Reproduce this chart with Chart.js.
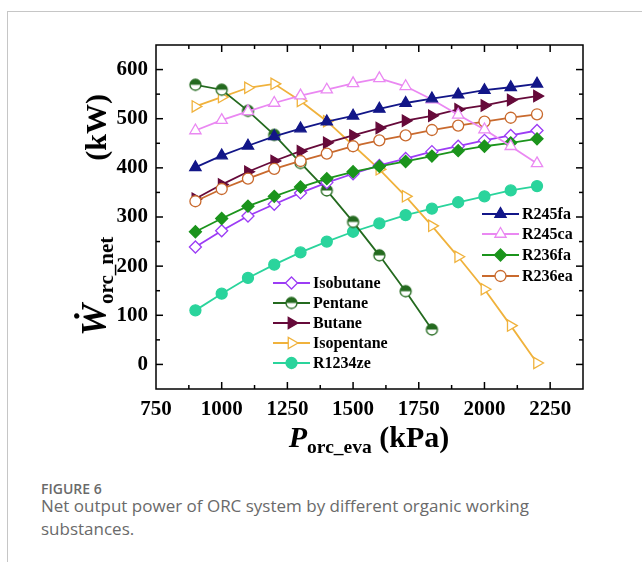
<!DOCTYPE html>
<html>
<head>
<meta charset="utf-8">
<script src="https://cdn.jsdelivr.net/npm/chart.js@4.4.0/dist/chart.umd.min.js"></script>
<style>
  body { margin: 0; background: #fff; width: 642px; height: 562px; overflow: hidden; position: relative; }
  #frame { position: absolute; left: 7px; top: 11px; width: 640px; height: 560px; border-left: 1.5px solid #c6c6c6; border-top: 1.5px solid #c6c6c6; }
  #wrap { position: absolute; left: 0; top: 0; width: 642px; height: 470px; }
  .axt { position: absolute; font-family: 'Liberation Serif', serif; font-weight: bold; font-size: 30px; white-space: nowrap; color: #000; line-height: 1; }
  .axt .sub { font-size: 19.5px; position: relative; top: 6px; }
  #ytitle { left: 94px; top: 215px; transform: translate(-50%, -50%) rotate(-90deg); }
  #ytitle .w { font-size: 36px; }
  #ytitle .sub { font-size: 21px; top: 7px; }
  #ytitle .kw { margin-left: 76px; }
  #xtitle { left: 369px; top: 437px; transform: translate(-50%, -50%); }
  #fig { position: absolute; left: 41px; top: 479px; font-family: 'Open Sans', sans-serif; font-size: 14px; line-height: 20px; color: #6a6a6a; font-weight: 600; }
  #cap { position: absolute; left: 41px; top: 494px; font-family: 'Open Sans', sans-serif; font-size: 17px; line-height: 23px; color: #6a6a6a; }
</style>
</head>
<body>
<div id="frame"></div>
<div id="wrap"><canvas id="chart" width="642" height="470"></canvas></div>
<div class="axt" id="ytitle"><i class="w">W&#775;</i><span class="sub">orc_net</span><span class="kw">(kW)</span></div>
<div class="axt" id="xtitle"><i>P</i><span class="sub">orc_eva</span> (kPa)</div>
<div id="fig">FIGURE 6</div>
<div id="cap">Net output power of ORC system by different organic working<br>substances.</div>
<script>
// 蒸发压力 (kPa)
const pressure = [900, 1000, 1100, 1200, 1300, 1400, 1500, 1600, 1700, 1800, 1900, 2000, 2100, 2200];
const xTicks = [750, 1000, 1250, 1500, 1750, 2000, 2250];
const xMinor = [875, 1125, 1375, 1625, 1875, 2125];
const yTicks = [0, 100, 200, 300, 400, 500, 600];
const yMinor = [50, 150, 250, 350, 450, 550];

// 各工质净输出功率 (kW)
const r245fa    = [401, 425, 445, 464, 480, 494, 506, 520, 532, 541, 549, 558, 564, 571];
const r245ca    = [476, 497, 515, 532, 547, 559, 572, 582, 566, 539, 508, 478, 444, 409];
const r236fa    = [270, 297, 322, 342, 361, 378, 392, 403, 413, 424, 435, 444, 451, 459];
const r236ea    = [332, 357, 378, 398, 414, 429, 444, 456, 466, 477, 486, 494, 502, 509];
const isobutane = [239, 272, 302, 326, 349, 370, 388, 405, 419, 433, 444, 456, 466, 476];
const pentane   = [569, 559, 516, 467, 410, 354, 290, 222, 149, 71];
const butane    = [337, 366, 392, 414, 434, 451, 466, 481, 496, 506, 519, 527, 538, 546];
const isopentane = [525, 544, 563, 571, 536, 495, 446, 397, 342, 282, 219, 153, 79, 3];
const r1234ze   = [110, 144, 176, 203, 228, 250, 270, 287, 304, 317, 330, 342, 354, 363];

function toPoints(vals) {
    return vals.map((v, i) => ({ x: pressure[i], y: v }));
}

// 半实心圆标记
function halfCircle(color) {
    const c = document.createElement('canvas');
    c.width = 15; c.height = 15;
    const g = c.getContext('2d');
    g.beginPath(); g.arc(7.5, 7.5, 5.5, 0, 2 * Math.PI); g.fillStyle = '#fff'; g.fill();
    g.beginPath(); g.arc(7.5, 7.5, 5.5, Math.PI, 2 * Math.PI); g.closePath(); g.fillStyle = color; g.fill();
    g.beginPath(); g.arc(7.5, 7.5, 5.5, 0, 2 * Math.PI); g.lineWidth = 1.3; g.strokeStyle = color; g.stroke();
    return c;
}

function series(label, vals, color, style, filled, radius, rotation) {
    return {
        label: label,
        data: toPoints(vals),
        borderColor: color,
        backgroundColor: filled ? color : '#fff',
        borderWidth: 1.8,
        pointStyle: style,
        pointRadius: radius,
        pointRotation: rotation || 0,
        pointBorderWidth: 1.3,
        pointBorderColor: color,
        pointBackgroundColor: filled ? color : '#fff',
        tension: 0
    };
}

const datasets = [
    series('R245fa', r245fa, '#121688', 'triangle', true, 6.5),
    series('R245ca', r245ca, '#ea88f2', 'triangle', false, 6.5),
    series('R236fa', r236fa, '#1b941c', 'rectRot', true, 6),
    series('R236ea', r236ea, '#c96a2e', 'circle', false, 5.5),
    series('Isobutane', isobutane, '#9c3cf5', 'rectRot', false, 6),
    series('Pentane', pentane, '#246a1f', halfCircle('#246a1f'), false, 6),
    series('Butane', butane, '#660a3a', 'triangle', true, 6.5, 90),
    series('Isopentane', isopentane, '#f0b23c', 'triangle', false, 6.5, 90),
    series('R1234ze', r1234ze, '#2ad49c', 'circle', true, 5.5)
];

// 边框与内向刻度
const framePlugin = {
    id: 'frame',
    beforeDatasetsDraw(chart) {
        const ctx = chart.ctx, a = chart.chartArea;
        const xs = chart.scales.x, ys = chart.scales.y;
        ctx.save();
        ctx.strokeStyle = '#000';
        ctx.lineWidth = 1.5;
        ctx.strokeRect(a.left, a.top, a.right - a.left, a.bottom - a.top);
        function seg(x1, y1, x2, y2) {
            ctx.beginPath(); ctx.moveTo(x1, y1); ctx.lineTo(x2, y2); ctx.stroke();
        }
        xTicks.concat(xMinor).forEach(v => {
            const len = xTicks.includes(v) ? 7 : 4;
            const px = xs.getPixelForValue(v);
            if (px <= a.left + 1) return;
            seg(px, a.bottom, px, a.bottom - len);
            seg(px, a.top, px, a.top + len);
        });
        yTicks.concat(yMinor).forEach(v => {
            const len = yTicks.includes(v) ? 7 : 4;
            const py = ys.getPixelForValue(v);
            seg(a.left, py, a.left + len, py);
            seg(a.right, py, a.right - len, py);
        });
        ctx.restore();
    }
};

// 两组图例
const legendPlugin = {
    id: 'legends',
    afterDatasetsDraw(chart) {
        const ctx = chart.ctx;
        const groups = [
            { x1: 482, x2: 519, tx: 522, ys: [214, 234, 255, 276], items: [0, 1, 2, 3] },
            { x1: 273, x2: 310, tx: 313, ys: [283, 303, 323, 343, 363], items: [4, 5, 6, 7, 8] }
        ];
        ctx.save();
        ctx.font = 'bold 16px "Liberation Serif"';
        ctx.textBaseline = 'middle';
        ctx.textAlign = 'left';
        groups.forEach(g => {
            g.items.forEach((idx, k) => {
                const ds = chart.data.datasets[idx];
                const y = g.ys[k];
                ctx.strokeStyle = ds.borderColor;
                ctx.lineWidth = 1.8;
                ctx.beginPath(); ctx.moveTo(g.x1, y); ctx.lineTo(g.x2, y); ctx.stroke();
                ctx.fillStyle = ds.pointBackgroundColor;
                ctx.strokeStyle = ds.pointBorderColor;
                ctx.lineWidth = ds.pointBorderWidth;
                Chart.helpers.drawPoint(ctx, {
                    pointStyle: ds.pointStyle, radius: ds.pointRadius,
                    rotation: ds.pointRotation, borderWidth: ds.pointBorderWidth
                }, (g.x1 + g.x2) / 2, y);
                ctx.fillStyle = '#000';
                ctx.fillText(ds.label, g.tx, y + 1);
            });
        });
        ctx.restore();
    }
};

const tickFont = { family: 'Liberation Serif', size: 21, weight: 'bold' };

new Chart(document.getElementById('chart').getContext('2d'), {
    type: 'line',
    data: { datasets: datasets },
    options: {
        responsive: false,
        animation: false,
        layout: { padding: { top: 45, right: 59, left: 0, bottom: 0 } },
        plugins: { legend: { display: false }, tooltip: { enabled: false } },
        scales: {
            x: {
                type: 'linear', min: 750, max: 2375,
                afterBuildTicks: s => { s.ticks = xTicks.map(v => ({ value: v })); },
                afterFit: s => { s.height = 81; },
                grid: { display: false, drawTicks: false },
                border: { display: false },
                ticks: { font: tickFont, color: '#000', padding: 8, maxRotation: 0, autoSkip: false,
                         callback: v => String(v) }
            },
            y: {
                min: -50, max: 650,
                afterBuildTicks: s => { s.ticks = yTicks.map(v => ({ value: v })); },
                afterFit: s => { s.width = 156; },
                grid: { display: false, drawTicks: false },
                border: { display: false },
                ticks: { font: tickFont, color: '#000', padding: 8, autoSkip: false,
                         callback: v => String(v) }
            }
        }
    },
    plugins: [framePlugin, legendPlugin]
});
</script>
</body>
</html>
